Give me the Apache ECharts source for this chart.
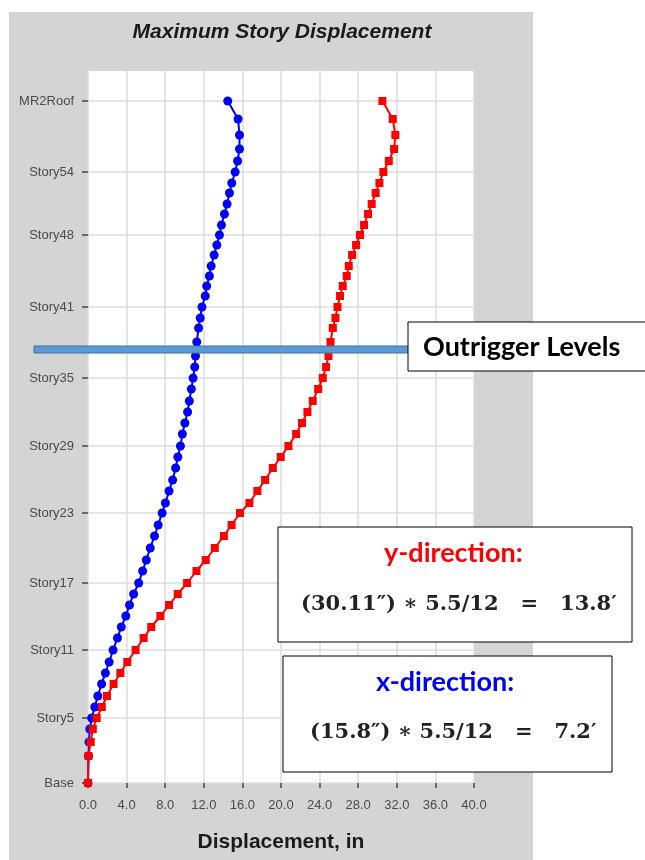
<!DOCTYPE html>
<html>
<head>
<meta charset="utf-8">
<title>Maximum Story Displacement</title>
<script src="https://cdn.jsdelivr.net/npm/echarts@6/dist/echarts.min.js"></script>
<style>
  html, body { margin: 0; padding: 0; background: #fff; }
  #chart { width: 645px; height: 860px; }
</style>
</head>
<body>
<div id="chart"></div>
<script>
// story names, bottom to top
const levels = [
  'Base', 'Story2', 'Story3', 'Story4', 'Story5', 'Story6', 'Story7', 'Story8', 'Story9', 'Story10',
  'Story11', 'Story12', 'Story13', 'Story14', 'Story15', 'Story16', 'Story17', 'Story18', 'Story19', 'Story20',
  'Story21', 'Story22', 'Story23', 'Story24', 'Story25', 'Story26', 'Story27', 'Story28', 'Story29', 'Story30',
  'Story31', 'Story32', 'Story33', 'Story34', 'Story35', 'Story36', 'Story37', 'Story38', 'Story39', 'Story40',
  'Story41', 'Story42', 'Story43', 'Story44', 'Story45', 'Story46', 'Story47', 'Story48', 'Story49', 'Story50',
  'Story51', 'Story52', 'Story53', 'Story54', 'Story55', 'Story56', 'Story57', 'MR1', 'MR2Roof'
];
// story elevations, ft
const elevations = [
  0, 27, 41, 54, 65, 76, 87, 99, 110, 121,
  133, 145, 156, 167, 178, 189, 200, 212, 223, 235,
  247, 258, 270, 280, 292, 303, 315, 326, 337, 349,
  360, 371, 382, 394, 405, 416, 427, 441, 455, 465,
  476, 487, 497, 507, 517, 528, 538, 548, 558, 569,
  579, 590, 600, 611, 622, 634, 648, 664, 682
];
// max displacement, in  (x-direction, blue)
const dispX = [
  0, 0.05, 0.1, 0.18, 0.38, 0.7, 1.02, 1.41, 1.8, 2.19,
  2.6, 3.05, 3.45, 3.92, 4.3, 4.73, 5.25, 5.66, 6.04, 6.45,
  6.89, 7.27, 7.68, 8.02, 8.4, 8.77, 9.08, 9.31, 9.58, 9.78,
  10.04, 10.32, 10.5, 10.71, 10.89, 11.06, 11.14, 11.27, 11.46, 11.63,
  11.81, 12.15, 12.3, 12.58, 12.76, 13.07, 13.35, 13.62, 13.83, 14.14,
  14.41, 14.66, 14.9, 15.25, 15.5, 15.7, 15.7, 15.55, 14.48
];
// max displacement, in  (y-direction, red)
const dispY = [
  0, 0.05, 0.28, 0.5, 0.9, 1.43, 1.97, 2.65, 3.35, 4.07,
  4.93, 5.77, 6.55, 7.5, 8.4, 9.3, 10.27, 11.24, 12.2, 13.14,
  14.08, 14.88, 15.75, 16.72, 17.55, 18.35, 19.15, 19.97, 20.77, 21.57,
  22.18, 22.74, 23.29, 23.85, 24.33, 24.67, 24.92, 25.13, 25.37, 25.64,
  25.85, 26.12, 26.4, 26.81, 27.02, 27.37, 27.78, 28.19, 28.61, 29.02,
  29.4, 29.81, 30.2, 30.61, 31.17, 31.72, 31.85, 31.58, 30.51
];
const labeledLevels = ['Base', 'Story5', 'Story11', 'Story17', 'Story23', 'Story29',
  'Story35', 'Story41', 'Story48', 'Story54', 'MR2Roof'];

const labeledElev = labeledLevels.map(n => elevations[levels.indexOf(n)]);
const seriesX = levels.map((n, i) => [dispX[i], elevations[i]]);
const seriesY = levels.map((n, i) => [dispY[i], elevations[i]]);

const chart = echarts.init(document.getElementById('chart'));

const option = {
  backgroundColor: '#fff',
  animation: false,
  title: {
    text: 'Maximum Story Displacement',
    left: 282,
    top: 22,
    textAlign: 'center',
    padding: 0,
    textStyle: {
      fontFamily: 'Liberation Sans',
      fontSize: 21,
      fontWeight: 'bold',
      fontStyle: 'italic',
      color: '#1a1a1a'
    }
  },
  grid: {
    left: 88,
    right: 171,
    top: 71,
    bottom: 77,
    show: true,
    backgroundColor: '#fff',
    borderWidth: 0
  },
  xAxis: {
    type: 'value',
    min: 0,
    max: 40,
    interval: 4,
    offset: 4,
    name: 'Displacement, in',
    nameLocation: 'middle',
    nameGap: 45,
    nameTextStyle: {
      fontFamily: 'Liberation Sans',
      fontSize: 21,
      fontWeight: 'bold',
      color: '#1a1a1a'
    },
    axisLine: { show: false },
    axisTick: { show: true, length: 5, lineStyle: { color: '#444', width: 1.5 } },
    axisLabel: {
      margin: 12,
      fontFamily: 'Liberation Sans',
      fontSize: 13,
      color: '#4a4a4a',
      formatter: v => v.toFixed(1)
    },
    splitLine: { show: true, lineStyle: { color: '#dcdcdc', width: 1.5 } }
  },
  yAxis: {
    type: 'value',
    min: 0,
    max: 712,
    offset: 1,
    axisLine: { show: false },
    axisTick: {
      show: true,
      length: 6,
      customValues: labeledElev,
      lineStyle: { color: '#444', width: 1.5 }
    },
    axisLabel: {
      margin: 13,
      customValues: labeledElev,
      fontFamily: 'Liberation Sans',
      fontSize: 13,
      color: '#4a4a4a',
      formatter: v => levels[elevations.indexOf(v)] || ''
    },
    splitLine: { show: true, lineStyle: { color: '#dcdcdc', width: 1.5 } }
  },
  series: [
    {
      name: 'x-direction',
      type: 'line',
      data: seriesX,
      symbol: 'circle',
      symbolSize: 9,
      itemStyle: { color: '#0000ff' },
      lineStyle: { color: '#0000ff', width: 2 },
      z: 3
    },
    {
      name: 'y-direction',
      type: 'line',
      data: seriesY,
      symbol: 'rect',
      symbolSize: 8,
      itemStyle: { color: '#ff0000' },
      lineStyle: { color: '#ff0000', width: 2 },
      z: 4
    }
  ],
  graphic: [
    // gray panel behind the chart
    {
      type: 'rect',
      z: -10,
      shape: { x: 9, y: 12, width: 524, height: 848 },
      style: { fill: '#d4d4d4' }
    },
    // outrigger level marker
    {
      type: 'rect',
      z: 20,
      shape: { x: 34, y: 346, width: 376, height: 7 },
      style: { fill: '#5b9bd5', stroke: '#41719c', lineWidth: 1 }
    },
    {
      type: 'rect',
      z: 21,
      shape: { x: 408, y: 322, width: 240, height: 49 },
      style: { fill: '#fff', stroke: '#000', lineWidth: 1 }
    },
    {
      type: 'text',
      z: 22,
      x: 423, y: 347,
      style: {
        text: 'Outrigger Levels',
        fontFamily: 'Lato',
        fontSize: 27,
        fontWeight: 'bold',
        fill: '#000',
        verticalAlign: 'middle'
      }
    },
    {
      type: 'rect',
      z: 21,
      shape: { x: 278, y: 527, width: 354, height: 115 },
      style: { fill: '#fff', stroke: '#000', lineWidth: 1 }
    },
    {
      type: 'text',
      z: 22,
      x: 384, y: 553,
      style: {
        text: 'y-direction:',
        fontFamily: 'Lato',
        fontSize: 27,
        fontWeight: 'bold',
        fill: '#ff0000',
        verticalAlign: 'middle'
      }
    },
    {
      type: 'text',
      z: 22,
      x: 301, y: 605,
      style: {
        text: '(30.11″) ∗ 5.5/12   =   13.8′',
        fontFamily: 'DejaVu Serif',
        fontSize: 21,
        fontWeight: 'bold',
        fill: '#222',
        verticalAlign: 'middle'
      }
    },
    {
      type: 'rect',
      z: 21,
      shape: { x: 283, y: 656, width: 329, height: 116 },
      style: { fill: '#fff', stroke: '#000', lineWidth: 1 }
    },
    {
      type: 'text',
      z: 22,
      x: 376, y: 682,
      style: {
        text: 'x-direction:',
        fontFamily: 'Lato',
        fontSize: 27,
        fontWeight: 'bold',
        fill: '#0000ff',
        verticalAlign: 'middle'
      }
    },
    {
      type: 'text',
      z: 22,
      x: 310, y: 733,
      style: {
        text: '(15.8″) ∗ 5.5/12   =   7.2′',
        fontFamily: 'DejaVu Serif',
        fontSize: 21,
        fontWeight: 'bold',
        fill: '#222',
        verticalAlign: 'middle'
      }
    }
  ]
};

chart.setOption(option);
</script>
</body>
</html>
